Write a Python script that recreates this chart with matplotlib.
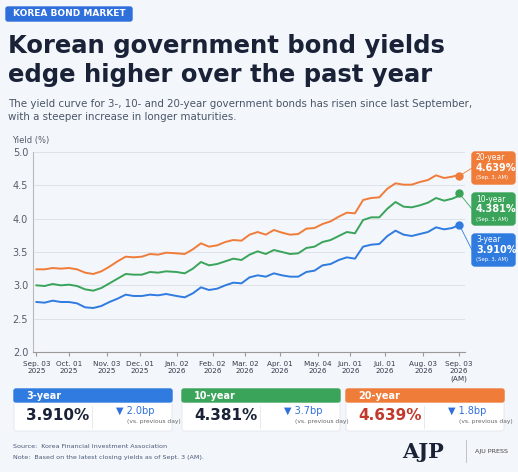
import matplotlib.pyplot as plt
from matplotlib.patches import FancyBboxPatch
import pandas as pd

dates = ["2025-09-03", "2025-09-10", "2025-09-17", "2025-09-24", "2025-10-01", "2025-10-08",
         "2025-10-15", "2025-10-22", "2025-10-29", "2025-11-05", "2025-11-12", "2025-11-19",
         "2025-11-26", "2025-12-03", "2025-12-10", "2025-12-17", "2025-12-24", "2026-01-02",
         "2026-01-09", "2026-01-16", "2026-01-23", "2026-01-30", "2026-02-06", "2026-02-13",
         "2026-02-20", "2026-02-27", "2026-03-06", "2026-03-13", "2026-03-20", "2026-03-27",
         "2026-04-03", "2026-04-10", "2026-04-17", "2026-04-24", "2026-05-01", "2026-05-08",
         "2026-05-15", "2026-05-22", "2026-05-29", "2026-06-05", "2026-06-12", "2026-06-19",
         "2026-06-26", "2026-07-03", "2026-07-10", "2026-07-17", "2026-07-24", "2026-07-31",
         "2026-08-07", "2026-08-14", "2026-08-21", "2026-08-28", "2026-09-01"]
y3 = [2.75, 2.74, 2.77, 2.75, 2.75, 2.73, 2.67, 2.66, 2.69, 2.75, 2.80, 2.86,
      2.84, 2.84, 2.86, 2.85, 2.87, 2.84, 2.82, 2.88, 2.97, 2.93, 2.95, 3.00,
      3.04, 3.03, 3.12, 3.15, 3.13, 3.18, 3.15, 3.13, 3.13, 3.20, 3.22, 3.30,
      3.32, 3.38, 3.42, 3.40, 3.58, 3.61, 3.62, 3.74, 3.82, 3.76, 3.74, 3.77,
      3.80, 3.87, 3.84, 3.86, 3.89]
y10 = [3.00, 2.99, 3.02, 3.00, 3.01, 2.99, 2.94, 2.92, 2.96, 3.03, 3.10, 3.17,
       3.16, 3.16, 3.20, 3.19, 3.21, 3.20, 3.18, 3.25, 3.35, 3.30, 3.32, 3.36,
       3.40, 3.38, 3.46, 3.51, 3.47, 3.53, 3.50, 3.47, 3.48, 3.56, 3.58, 3.65,
       3.68, 3.74, 3.80, 3.78, 3.98, 4.02, 4.02, 4.15, 4.25, 4.18, 4.17, 4.20,
       4.24, 4.31, 4.27, 4.30, 4.33]
y20 = [3.24, 3.24, 3.26, 3.25, 3.26, 3.24, 3.19, 3.17, 3.21, 3.28, 3.36, 3.43,
       3.42, 3.43, 3.47, 3.46, 3.49, 3.48, 3.47, 3.54, 3.63, 3.58, 3.60, 3.65,
       3.68, 3.67, 3.76, 3.80, 3.76, 3.83, 3.79, 3.76, 3.77, 3.85, 3.86, 3.92,
       3.96, 4.03, 4.09, 4.08, 4.28, 4.31, 4.32, 4.45, 4.53, 4.51, 4.51, 4.55,
       4.58, 4.65, 4.61, 4.63, 4.65]
end_date = "2026-09-03"
labels = ["3-year", "10-year", "20-year"]
latest = [3.910, 4.381, 4.639]
changes = ["2.0bp", "3.7bp", "1.8bp"]
colors = ["#2f7be0", "#3aa45a", "#f07c3a"]
tick_dates = ["2025-09-03", "2025-10-01", "2025-11-03", "2025-12-01", "2026-01-02", "2026-02-02",
              "2026-03-02", "2026-04-01", "2026-05-04", "2026-06-01", "2026-07-01", "2026-08-03", "2026-09-03"]
tick_labels = ["Sep. 03\n2025", "Oct. 01\n2025", "Nov. 03\n2025", "Dec. 01\n2025", "Jan. 02\n2026",
               "Feb. 02\n2026", "Mar. 02\n2026", "Apr. 01\n2026", "May. 04\n2026", "Jun. 01\n2026",
               "Jul. 01\n2026", "Aug. 03\n2026", "Sep. 03\n2026\n(AM)"]

bg = "#f3f6fa"
navy = "#1a2238"
fig = plt.figure(figsize=(5.18, 4.72), dpi=100, facecolor=bg)
W, H = 518, 472

def fx(px): return px / W
def fy(py): return 1 - py / H

# header
fig.patches.append(FancyBboxPatch((fx(6), fy(21)), fx(126), 14 / H, boxstyle="round,pad=0,rounding_size=0.004",
                                  transform=fig.transFigure, color="#2f6fdc"))
fig.text(fx(69), fy(14), "KOREA BOND MARKET", color="white", fontsize=6.5, fontweight="bold", ha="center", va="center")
fig.text(fx(8), fy(46), "Korean government bond yields", fontsize=17.5, fontweight="bold", color=navy, va="center")
fig.text(fx(8), fy(75), "edge higher over the past year", fontsize=17.5, fontweight="bold", color=navy, va="center")
fig.text(fx(8), fy(104), "The yield curve for 3-, 10- and 20-year government bonds has risen since last September,",
         fontsize=7.4, color="#4a5568", va="center")
fig.text(fx(8), fy(117), "with a steeper increase in longer maturities.", fontsize=7.4, color="#4a5568", va="center")

ax = fig.add_axes([fx(33), fy(352), fx(432), 200 / H])
ax.set_facecolor(bg)
d = pd.to_datetime(dates)
for ys, c in zip([y3, y10, y20], colors):
    ax.plot(d, ys, color=c, lw=1.4)
end = pd.to_datetime(end_date)
for v, c in zip(latest, colors):
    ax.plot([end], [v], "o", color=c, ms=5)
ax.set_ylim(2.0, 5.0)
ax.set_yticks([2.0, 2.5, 3.0, 3.5, 4.0, 4.5, 5.0])
ax.set_xlim(pd.to_datetime("2025-08-31"), pd.to_datetime("2026-09-08"))
ax.set_xticks(pd.to_datetime(tick_dates))
ax.set_xticklabels(tick_labels, fontsize=5.2, color="#333a4a")
ax.tick_params(axis="y", labelsize=7, colors="#555c6a", length=0)
ax.tick_params(axis="x", length=3, color="#999")
ax.grid(axis="y", color="#dde2ea", lw=0.7)
for s in ["top", "right"]:
    ax.spines[s].set_visible(False)
ax.spines["left"].set_color("#bbb")
ax.spines["bottom"].set_color("#999")
fig.text(fx(12), fy(140), "Yield (%)", fontsize=6, color="#555c6a", va="center")

# end labels with connectors
box_y = [152, 193, 234]
for lab, v, c, by in zip(labels[::-1], latest[::-1], colors[::-1], box_y):
    fig.patches.append(FancyBboxPatch((fx(472), fy(by + 32)), fx(43), 32 / H,
                                      boxstyle="round,pad=0,rounding_size=0.006", transform=fig.transFigure, color=c))
    fig.text(fx(476), fy(by + 6), lab, fontsize=5.5, color="white", va="center")
    fig.text(fx(476), fy(by + 16), f"{v:.3f}%", fontsize=7, color="white", fontweight="bold", va="center")
    fig.text(fx(476), fy(by + 26), "(Sep. 3, AM)", fontsize=3.8, color="white", va="center")
    dot = fig.transFigure.inverted().transform(ax.transData.transform((mdates_end := ax.convert_xunits(end), v)))
    fig.add_artist(plt.Line2D([dot[0], fx(472)], [dot[1], fy(by + 16)], color=c, lw=0.6))

# summary cards
card_x = [14, 182, 346]
for lab, v, ch, c, cx in zip(labels, latest, changes, colors, card_x):
    fig.patches.append(FancyBboxPatch((fx(cx), fy(431)), fx(158), 42 / H, boxstyle="round,pad=0,rounding_size=0.005",
                                      transform=fig.transFigure, facecolor="white", edgecolor="#e2e6ee", lw=0.6))
    fig.patches.append(FancyBboxPatch((fx(cx), fy(402)), fx(158), 13 / H, boxstyle="round,pad=0,rounding_size=0.004",
                                      transform=fig.transFigure, color=c))
    fig.text(fx(cx + 12), fy(396), lab, fontsize=7, color="white", fontweight="bold", va="center")
    fig.text(fx(cx + 12), fy(416), f"{v:.3f}%", fontsize=11, fontweight="bold",
             color="#c0392b" if lab == "20-year" else navy, va="center")
    fig.add_artist(plt.Line2D([fx(cx + 78), fx(cx + 78)], [fy(406), fy(428)], color="#e2e6ee", lw=0.6))
    fig.text(fx(cx + 102), fy(411), "▼ " + ch, fontsize=7, color="#2f6fdc", va="center")
    fig.text(fx(cx + 113), fy(422), "(vs. previous day)", fontsize=4.3, color="#666", va="center")

fig.text(fx(13), fy(447), "Source:  Korea Financial Investment Association", fontsize=4.6, color="#4a5a7a", va="center")
fig.text(fx(13), fy(457), "Note:  Based on the latest closing yields as of Sept. 3 (AM).", fontsize=4.6, color="#4a5a7a", va="center")
fig.text(fx(423), fy(452), "AJP", fontsize=15, fontweight="bold", family="DejaVu Serif", color=navy, ha="center", va="center")
fig.add_artist(plt.Line2D([fx(466), fx(466)], [fy(440), fy(462)], color="#bbb", lw=0.6))
fig.text(fx(475), fy(452), "AJU PRESS", fontsize=4.6, color="#444", va="center")

fig.savefig("out.png", dpi=100, facecolor=bg)
